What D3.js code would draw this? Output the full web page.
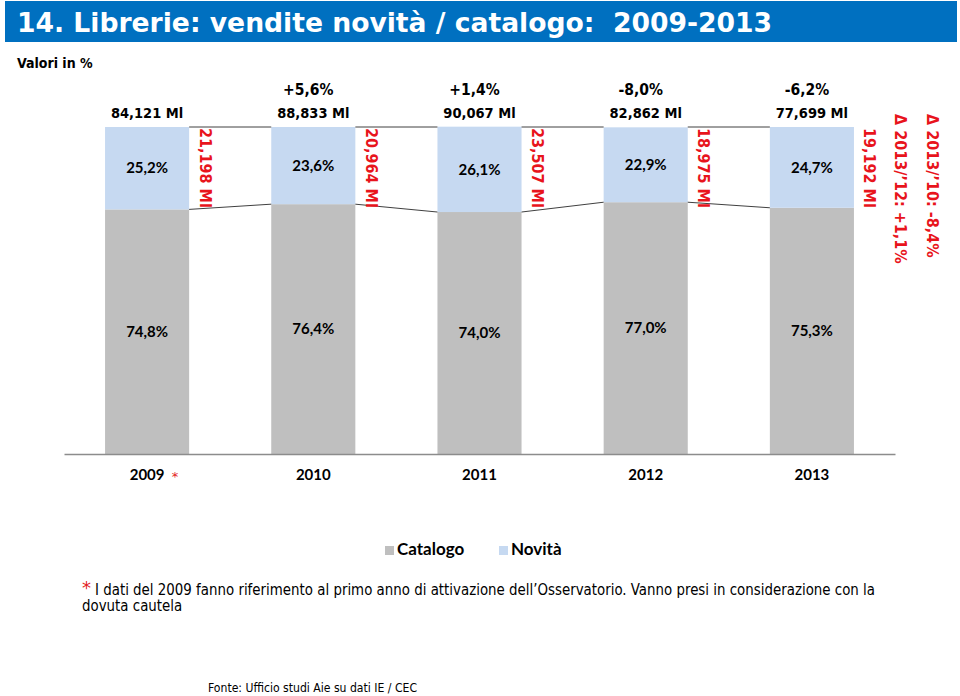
<!DOCTYPE html>
<html>
<head>
<meta charset="utf-8">
<script src="https://cdn.jsdelivr.net/npm/d3@7"></script>
<style>
  body { margin: 0; background: #fff; }
  svg { display: block; }
  .cond { font-family: "DejaVu Sans Condensed", "DejaVu Sans", sans-serif; }
  .cal { font-family: Lato, "Open Sans", sans-serif; font-weight: bold; }
</style>
</head>
<body>
<div id="chart"></div>
<script>
// --------------------------------------
//  Data
// --------------------------------------

const anni = ["2009", "2010", "2011", "2012", "2013"];
const catalogo = [74.8, 76.4, 74.0, 77.0, 75.3];
const novita = [25.2, 23.6, 26.1, 22.9, 24.7];
const totaleMl = [84.121, 88.833, 90.067, 82.862, 77.699];
const variazione = [null, 5.6, 1.4, -8.0, -6.2];
const novitaMl = [21.198, 20.964, 23.507, 18.975, 19.192];
const deltaPeriodi = ["2013/’12", "2013/’10"];
const deltaValori = [1.1, -8.4];
const serie = ["Catalogo", "Novità"];
const colori = ["#BFBFBF", "#C6D9F1"];

const titolo = "14. Librerie: vendite novità / catalogo:  2009-2013";
const nota = "I dati del 2009 fanno riferimento al primo anno di attivazione dell’Osservatorio. Vanno presi in considerazione con la";
const nota2 = "dovuta cautela";
const fonte = "Fonte: Ufficio studi Aie su dati IE / CEC";

// Italian number format
const it = d3.formatLocale({decimal: ",", thousands: ".", grouping: [3], currency: ["€", ""], minus: "-"});
const fMl = d => it.format(".3f")(d) + " Ml";
const fPct = d => it.format(".1f")(d) + "%";
const fVar = d => it.format("+.1f")(d) + "%";

// --------------------------------------
//  Canvas
// --------------------------------------

const width = 960;
const height = 696;

const svg = d3.select("#chart")
  .append("svg")
    .attr("width", width)
    .attr("height", height);

// title bar
svg.append("rect")
  .attr("x", 5).attr("y", 1)
  .attr("width", 952).attr("height", 41)
  .attr("fill", "#0070C0");

svg.append("text")
  .attr("class", "cond")
  .attr("x", 17).attr("y", 32)
  .attr("font-size", 27)
  .attr("font-weight", "bold")
  .attr("fill", "white")
  .attr("textLength", 755)
  .attr("lengthAdjust", "spacingAndGlyphs")
  .style("white-space", "pre")
  .text(titolo);

svg.append("text")
  .attr("class", "cond")
  .attr("x", 17).attr("y", 68)
  .attr("font-size", 14)
  .attr("font-weight", "bold")
  .text("Valori in %");

// --------------------------------------
//  Scales
// --------------------------------------

const x = d3.scaleBand()
  .domain(anni)
  .range([64, 895])
  .paddingInner(0.494)
  .paddingOuter(0.247);

const y = d3.scaleLinear()
  .domain([0, 100])
  .range([454, 127]);

const rows = anni.map((a, i) => ({anno: a, cat: catalogo[i], nov: novita[i]}));
const stack = d3.stack().keys(["cat", "nov"])(rows);

// --------------------------------------
//  Bars
// --------------------------------------

const bars = svg.append("g");

bars.selectAll("g")
  .data(stack)
  .join("g")
    .attr("fill", (d, i) => colori[i])
  .selectAll("rect")
  .data(d => d)
  .join("rect")
    .attr("x", d => x(d.data.anno))
    .attr("y", d => y(d[1]))
    .attr("width", x.bandwidth())
    .attr("height", d => y(d[0]) - y(d[1]));

// series lines between bars
const pairs = d3.pairs(rows);
svg.append("g")
    .attr("stroke", "#404040")
    .attr("stroke-width", 1)
  .selectAll("line")
  .data(pairs.flatMap(p => [[p[0], p[1], "cat"], [p[0], p[1], "top"]]))
  .join("line")
    .attr("x1", d => x(d[0].anno) + x.bandwidth())
    .attr("x2", d => x(d[1].anno))
    .attr("y1", d => d[2] === "cat" ? y(d[0].cat) : y(100))
    .attr("y2", d => d[2] === "cat" ? y(d[1].cat) : y(100));

// percentage labels inside segments
svg.append("g")
    .attr("class", "cal")
    .attr("font-size", 15)
    .attr("text-anchor", "middle")
  .selectAll("text")
  .data(stack.flatMap(s => s.map((d, i) => ({d, v: s.key === "cat" ? catalogo[i] : novita[i]}))))
  .join("text")
    .attr("x", e => x(e.d.data.anno) + x.bandwidth() / 2)
    .attr("y", e => (y(e.d[0]) + y(e.d[1])) / 2)
    .attr("dy", "0.35em")
    .text(e => fPct(e.v));

// --------------------------------------
//  Axis
// --------------------------------------

const axis = svg.append("g")
  .attr("transform", `translate(0, ${y(0)})`)
  .call(d3.axisBottom(x).tickSize(0).tickSizeOuter(0).tickPadding(15));

axis.select(".domain").attr("stroke", "#8C8C8C").attr("stroke-width", 1.5);
axis.selectAll("text")
  .attr("class", "cal")
  .attr("font-size", 15)
  .attr("fill", "#000");

svg.append("text")
  .attr("x", x(anni[0]) + x.bandwidth() / 2 + 28)
  .attr("y", 481)
  .attr("text-anchor", "middle")
  .attr("font-family", "DejaVu Sans")
  .attr("font-size", 13)
  .attr("fill", "#E31B23")
  .text("*");

// --------------------------------------
//  Top labels
// --------------------------------------

const topLabels = svg.append("g")
  .attr("class", "cond")
  .attr("font-weight", "bold")
  .attr("text-anchor", "middle");

topLabels.selectAll(".tot")
  .data(anni)
  .join("text")
    .attr("class", "tot")
    .attr("font-size", 14.5)
    .attr("x", d => x(d) + x.bandwidth() / 2)
    .attr("y", 118)
    .text((d, i) => fMl(totaleMl[i]));

topLabels.selectAll(".var")
  .data(anni.filter((d, i) => variazione[i] !== null))
  .join("text")
    .attr("class", "var")
    .attr("font-size", 15.5)
    .attr("x", d => x(d) + x.bandwidth() / 2 - 5)
    .attr("y", 95)
    .text(d => fVar(variazione[anni.indexOf(d)]));

// rotated red labels: novità in Ml
const red = svg.append("g")
  .attr("class", "cond")
  .attr("font-weight", "bold")
  .attr("font-size", 16)
  .attr("fill", "#E8141C");

red.selectAll(".ml")
  .data(anni)
  .join("text")
    .attr("class", "ml")
    .attr("transform", d => `translate(${x(d) + x.bandwidth() + 16}, ${y(100) + 1}) rotate(90)`)
    .attr("dy", "0.35em")
    .text((d, i) => fMl(novitaMl[i]));

red.selectAll(".delta")
  .data(deltaPeriodi)
  .join("text")
    .attr("class", "delta")
    .attr("transform", (d, i) => `translate(${x.range()[1] + 6 + i * 32}, 114) rotate(90)`)
    .attr("dy", "0.35em")
    .text((d, i) => `Δ ${d}: ${fVar(deltaValori[i])}`);

// --------------------------------------
//  Legend
// --------------------------------------

const legend = svg.append("g")
  .attr("transform", "translate(385, 546)");

const item = legend.selectAll("g")
  .data(serie)
  .join("g")
    .attr("transform", (d, i) => `translate(${i * 114}, 0)`);

item.append("rect")
  .attr("width", 9).attr("height", 9)
  .attr("fill", (d, i) => colori[i]);

item.append("text")
  .attr("class", "cal")
  .attr("x", 12).attr("y", 9)
  .attr("font-size", 17)
  .text(d => d);

// --------------------------------------
//  Notes
// --------------------------------------

svg.append("text")
  .attr("x", 82).attr("y", 594)
  .attr("font-family", "DejaVu Sans")
  .attr("font-size", 18)
  .attr("fill", "#E31B23")
  .text("*");

const n1 = svg.append("text")
  .attr("class", "cond")
  .attr("x", 95).attr("y", 595)
  .attr("font-size", 15)
  .text(nota);

const scala = 780 / n1.node().getComputedTextLength();
n1.attr("textLength", 780).attr("lengthAdjust", "spacingAndGlyphs");

const n2 = svg.append("text")
  .attr("class", "cond")
  .attr("x", 82).attr("y", 611)
  .attr("font-size", 15)
  .text(nota2);
n2.attr("textLength", n2.node().getComputedTextLength() * scala)
  .attr("lengthAdjust", "spacingAndGlyphs");

svg.append("text")
  .attr("class", "cond")
  .attr("x", 208).attr("y", 692)
  .attr("font-size", 12.5)
  .attr("textLength", 209)
  .attr("lengthAdjust", "spacingAndGlyphs")
  .text(fonte);
</script>
</body>
</html>
